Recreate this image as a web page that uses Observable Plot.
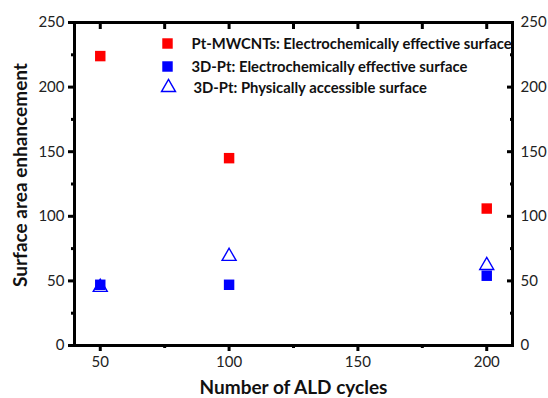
<!DOCTYPE html>
<html>
<head>
<meta charset="utf-8">
<script src="https://cdn.jsdelivr.net/npm/d3@7"></script>
<script src="https://cdn.jsdelivr.net/npm/@observablehq/plot@0.6"></script>
<style>
  html, body { margin: 0; padding: 0; background: #fff; }
  #chart { width: 548px; height: 398px; }
</style>
</head>
<body>
<div id="chart"></div>
<script>
// ---- data ----
const cycles = [50, 100, 200];
const mwcntEcsa = [224, 145, 106];   // Pt-MWCNTs: electrochemically effective surface
const ptEcsa = [47, 47, 54];         // 3D-Pt: electrochemically effective surface
const ptPhys = [45, 69, 62];         // 3D-Pt: physically accessible surface
const xTicks = [50, 100, 150, 200];
const xMinor = [75, 125, 175];
const yTicks = [0, 50, 100, 150, 200, 250];
const yMinor = [25, 75, 125, 175, 225];
const legendLabels = [
  "Pt-MWCNTs: Electrochemically effective surface",
  "3D-Pt: Electrochemically effective surface",
  "3D-Pt: Physically accessible surface"
];
const xTitle = "Number of ALD cycles";
const yTitle = "Surface area enhancement";

const red = cycles.map((c, i) => ({x: c, y: mwcntEcsa[i]}));
const blue = cycles.map((c, i) => ({x: c, y: ptEcsa[i]}));
const tri = cycles.map((c, i) => ({x: c, y: ptPhys[i]}));

const font = "Lato, 'Open Sans', sans-serif";
const tickColor = "#222";

const chart = Plot.plot({
  width: 548,
  height: 398,
  marginLeft: 74,
  marginRight: 36,
  marginTop: 22,
  marginBottom: 53,
  style: {fontFamily: font, background: "#fff"},
  x: {domain: [40, 210]},
  y: {domain: [0, 250]},
  marks: [
    // bottom axis
    Plot.axisX({anchor: "bottom", ticks: xTicks, tickSize: 6, strokeWidth: 3, text: null, label: null}),
    Plot.axisX({anchor: "bottom", ticks: xMinor, tickSize: 3, strokeWidth: 3, text: null, label: null}),
    Plot.axisX({anchor: "bottom", ticks: xTicks, tickSize: 0, tickPadding: 11, fontSize: 15, fill: tickColor, label: null}),
    // top axis (inward ticks)
    Plot.axisX({anchor: "top", ticks: xTicks.concat(xMinor), tickSize: -6, strokeWidth: 3, text: null, label: null}),
    // left axis
    Plot.axisY({anchor: "left", ticks: yTicks, tickSize: 6, strokeWidth: 3, text: null, label: null}),
    Plot.axisY({anchor: "left", ticks: yMinor, tickSize: 3, strokeWidth: 3, text: null, label: null}),
    Plot.axisY({anchor: "left", ticks: yTicks, tickSize: 0, tickPadding: 10, fontSize: 15, fill: tickColor, label: null}),
    // right axis (inward ticks)
    Plot.axisY({anchor: "right", ticks: yTicks, tickSize: -6, strokeWidth: 3, text: null, label: null}),
    Plot.axisY({anchor: "right", ticks: yMinor, tickSize: -3, strokeWidth: 3, text: null, label: null}),
    Plot.axisY({anchor: "right", ticks: yTicks, tickSize: 0, tickPadding: 8, fontSize: 15, fill: tickColor, label: null}),
    Plot.frame({stroke: "#000", strokeWidth: 3}),
    // data
    Plot.dot(red, {x: "x", y: "y", symbol: "square", r: 5.9, fill: "#ff0000", stroke: "none"}),
    Plot.dot(blue, {x: "x", y: "y", symbol: "square", r: 5.9, fill: "#0000ff", stroke: "none"}),
    Plot.dot(tri, {x: "x", y: "y", symbol: "triangle", r: 5.2, fill: "none", stroke: "#0000ff", strokeWidth: 1.4}),
    // legend
    Plot.dot([legendLabels[0]], {frameAnchor: "top-left", dx: 93, dy: 21, symbol: "square", r: 5.9, fill: "#ff0000", stroke: "none"}),
    Plot.dot([legendLabels[1]], {frameAnchor: "top-left", dx: 93, dy: 44, symbol: "square", r: 5.9, fill: "#0000ff", stroke: "none"}),
    Plot.dot([legendLabels[2]], {frameAnchor: "top-left", dx: 94, dy: 65, symbol: "triangle", r: 5.2, fill: "none", stroke: "#0000ff", strokeWidth: 1.4}),
    Plot.text([legendLabels[0]], {text: d => d, frameAnchor: "top-left", dx: 117, dy: 22, textAnchor: "start", lineAnchor: "middle", fontSize: 14.8, fontWeight: "bold", fill: "#111"}),
    Plot.text([legendLabels[1]], {text: d => d, frameAnchor: "top-left", dx: 117, dy: 45, textAnchor: "start", lineAnchor: "middle", fontSize: 14.8, fontWeight: "bold", fill: "#111"}),
    Plot.text([legendLabels[2]], {text: d => d, frameAnchor: "top-left", dx: 119, dy: 66, textAnchor: "start", lineAnchor: "middle", fontSize: 14.8, fontWeight: "bold", fill: "#111"}),
    // axis titles
    Plot.text([xTitle], {text: d => d, frameAnchor: "bottom", dy: 42, textAnchor: "middle", lineAnchor: "middle", fontSize: 19, fontWeight: "bold", fill: "#111"}),
    Plot.text([yTitle], {text: d => d, frameAnchor: "left", dx: -54, dy: -9, rotate: -90, textAnchor: "middle", lineAnchor: "middle", fontSize: 19, fontWeight: "bold", fill: "#111"})
  ]
});
document.getElementById("chart").appendChild(chart);
</script>
</body>
</html>
